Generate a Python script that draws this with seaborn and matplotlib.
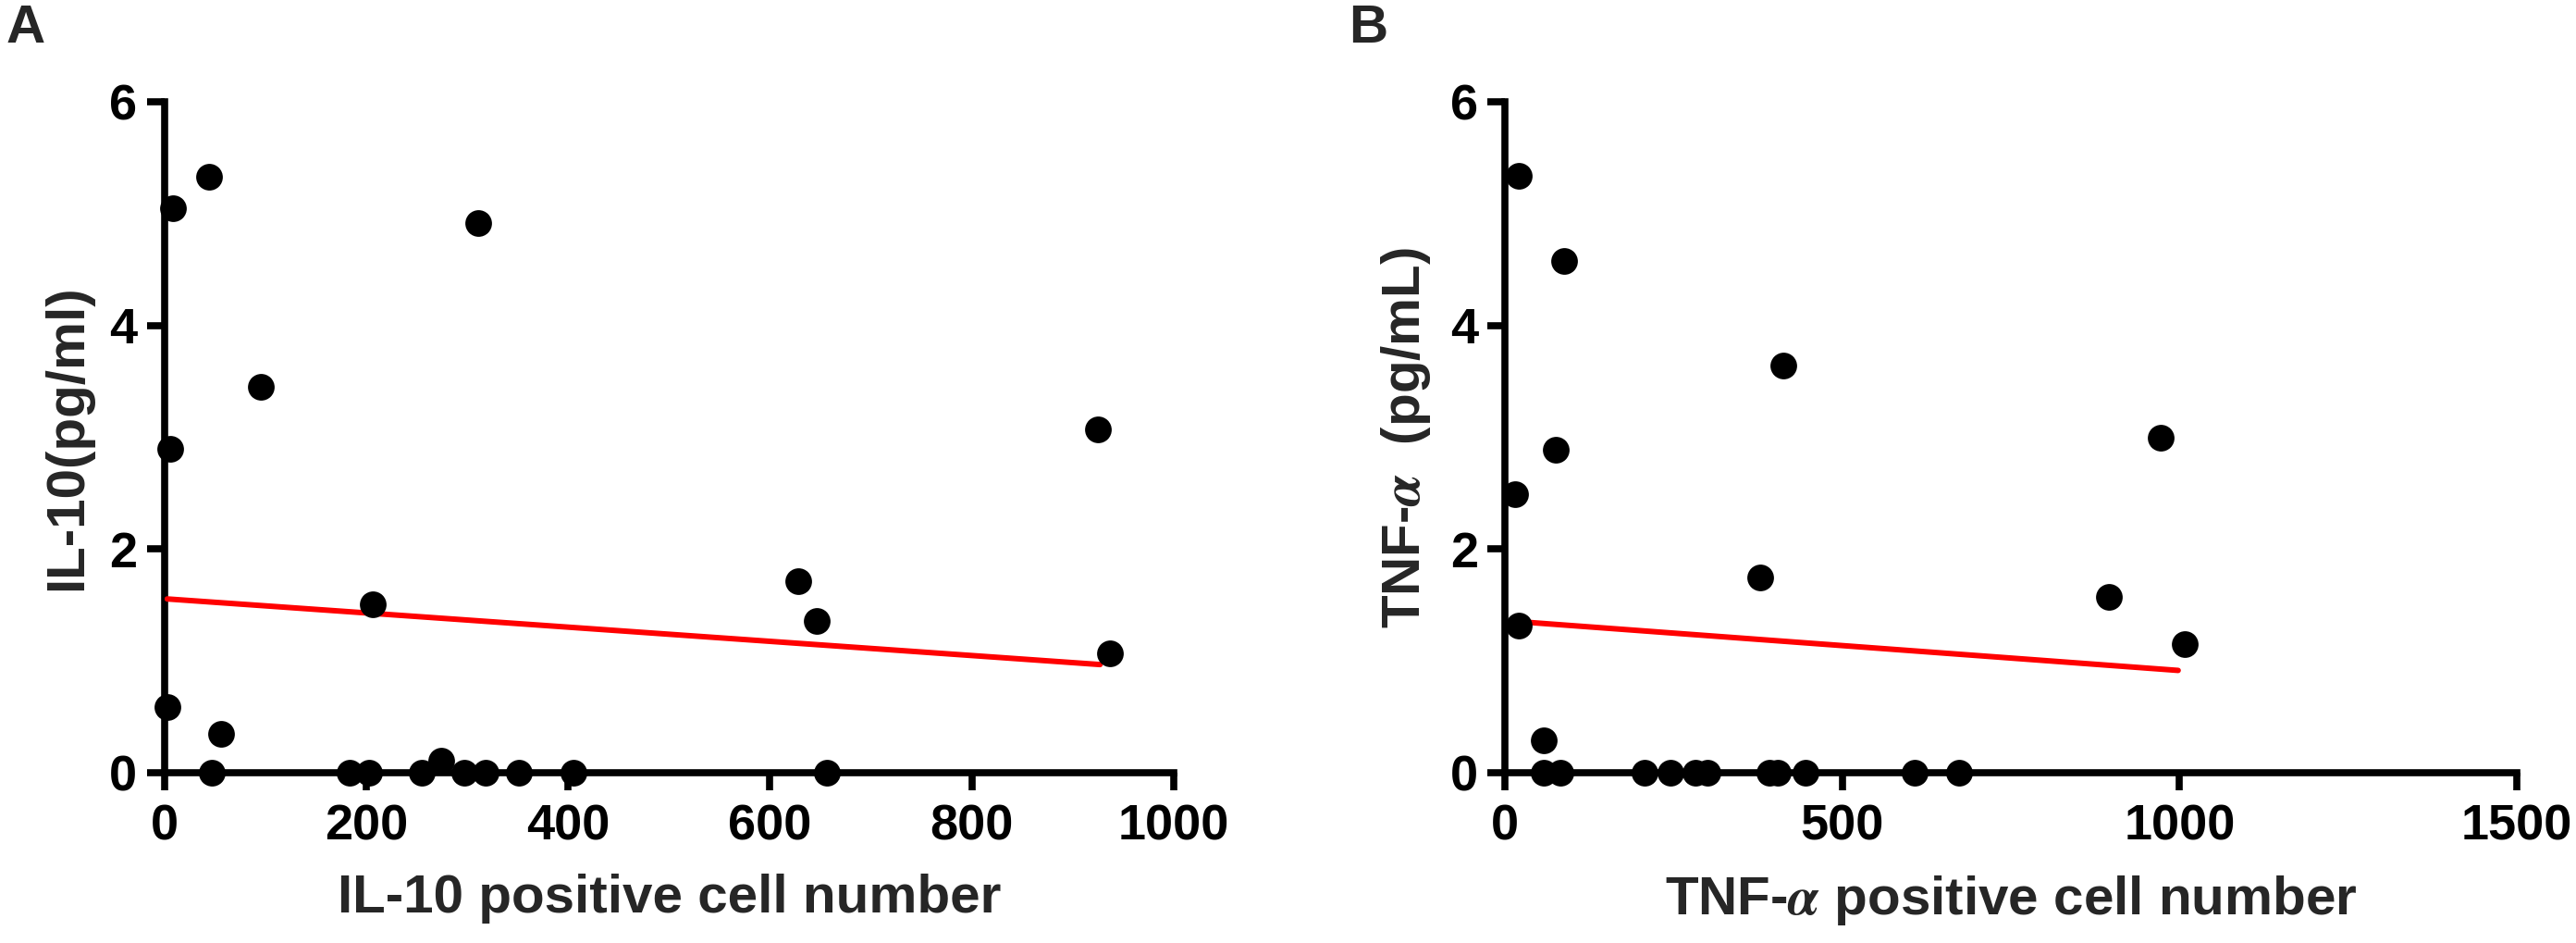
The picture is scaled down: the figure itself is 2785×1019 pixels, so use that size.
import matplotlib
matplotlib.use("Agg")
import matplotlib.pyplot as plt
import numpy as np
import pandas as pd
import seaborn as sns

# values
il10_x = [9, 44, 311, 96, 6, 207, 628, 646, 3, 56, 47, 184, 203, 255, 274, 297, 318, 351, 405, 656, 925, 937]
il10_y = [5.05, 5.33, 4.92, 3.45, 2.90, 1.51, 1.71, 1.36, 0.59, 0.35, 0, 0, 0, 0, 0.11, 0, 0, 0, 0, 0, 3.07, 1.07]
il10_fit = [1.556, -0.000635]      # intercept, slope
il10_fit_range = [3, 927]

tnf_x = [20, 88, 413, 75, 15, 379, 21, 57, 57, 82, 207, 246, 283, 300, 392, 405, 445, 608, 673, 896, 972, 1008]
tnf_y = [5.34, 4.58, 3.64, 2.89, 2.49, 1.75, 1.32, 0.29, 0, 0, 0, 0, 0, 0, 0, 0, 0, 0, 0, 1.57, 3.00, 1.15]
tnf_fit = [1.36, -0.000446]
tnf_fit_range = [20, 998]

il10_xticks = [0, 200, 400, 600, 800, 1000]
tnf_xticks = [0, 500, 1000, 1500]
yticks = [0, 2, 4, 6]

sns.set_theme(style="ticks")
plt.rcParams["font.family"] = ["Liberation Sans", "DejaVu Sans"]
plt.rcParams["font.weight"] = "bold"
plt.rcParams["mathtext.fontset"] = "stix"
plt.rcParams.update({
    "axes.linewidth": 5.5,
    "xtick.major.width": 5.5,
    "ytick.major.width": 5.5,
    "xtick.major.size": 14,
    "ytick.major.size": 14,
    "xtick.major.pad": 10,
    "ytick.major.pad": 7,
    "xtick.labelsize": 39,
    "ytick.labelsize": 39,
    "axes.labelsize": 42,
    "axes.labelweight": "bold",
    "axes.edgecolor": "black",
    "xtick.color": "black",
    "ytick.color": "black",
})

W, H = 2785, 1019
fig = plt.figure(figsize=(W / 100, H / 100), dpi=100)
ax_a = fig.add_axes([177.5 / W, 1 - 835 / H, (1269 - 177.5) / W, 725 / H])
ax_b = fig.add_axes([1627 / W, 1 - 835 / H, (2721 - 1627) / W, 725 / H])

panels = [
    (ax_a, il10_x, il10_y, il10_fit, il10_fit_range, il10_xticks,
     "IL-10 positive cell number", "IL-10(pg/ml)"),
    (ax_b, tnf_x, tnf_y, tnf_fit, tnf_fit_range, tnf_xticks,
     r"TNF-$\alpha$ positive cell number", r"TNF-$\alpha$  (pg/mL)"),
]

for ax, xs, ys, fit, fr, xt, xlab, ylab in panels:
    df = pd.DataFrame({"x": xs, "y": ys})
    fx = np.array(fr, dtype=float)
    line = pd.DataFrame({"x": fx, "y": fit[0] + fit[1] * fx})
    sns.lineplot(data=line, x="x", y="y", ax=ax, color="#ff0000", lw=4.3, zorder=3)
    sns.scatterplot(data=df, x="x", y="y", ax=ax, color="black", s=430,
                    linewidth=0, zorder=4, clip_on=False)
    ax.set_xlim(xt[0], xt[-1])
    ax.set_ylim(0, 6)
    ax.set_xticks(xt)
    ax.set_yticks(yticks)
    ax.set_xlabel(xlab)
    ax.set_ylabel(ylab)
    ax.xaxis.set_label_coords(0.5, -0.15)
    ax.yaxis.set_label_coords(-0.071, 0.5)
    sns.despine(ax=ax)
    for lbl in ax.get_xticklabels() + ax.get_yticklabels():
        lbl.set_fontweight("bold")

fig.text(7 / W, 1 - 4 / H, "A", fontsize=42, fontweight="bold", va="top", ha="left")
fig.text(1458 / W, 1 - 4 / H, "B", fontsize=42, fontweight="bold", va="top", ha="left")

fig.savefig("out.png", dpi=100, facecolor="white")
